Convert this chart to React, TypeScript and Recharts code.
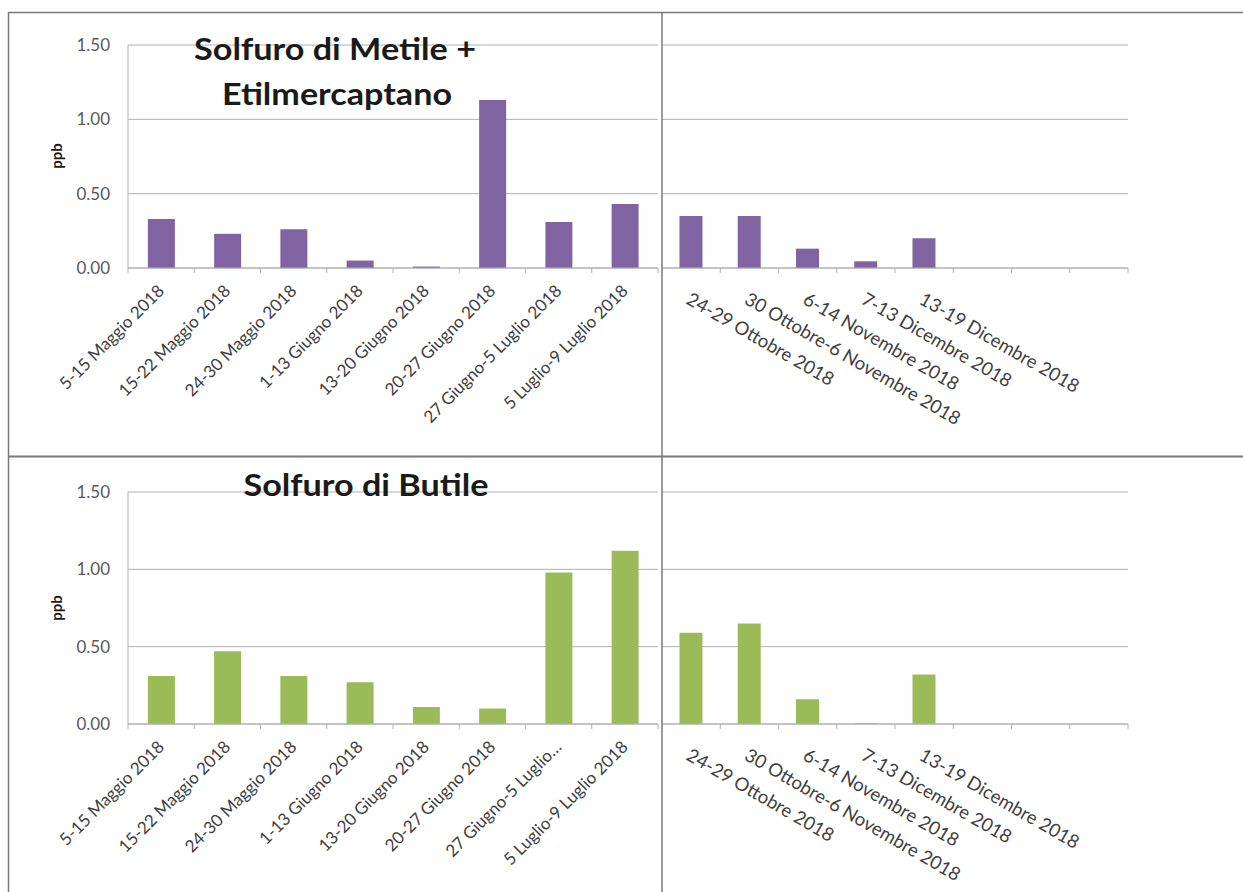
import React from 'react';
import { Bar, BarChart, CartesianGrid, XAxis, YAxis } from 'recharts';

const leftLabelsMetile = [
  '5-15 Maggio 2018',
  '15-22 Maggio 2018',
  '24-30 Maggio 2018',
  '1-13 Giugno 2018',
  '13-20 Giugno 2018',
  '20-27 Giugno 2018',
  '27 Giugno-5 Luglio 2018',
  '5 Luglio-9 Luglio 2018',
];
const leftLabelsButile = [
  '5-15 Maggio 2018',
  '15-22 Maggio 2018',
  '24-30 Maggio 2018',
  '1-13 Giugno 2018',
  '13-20 Giugno 2018',
  '20-27 Giugno 2018',
  '27 Giugno-5 Luglio…',
  '5 Luglio-9 Luglio 2018',
];
const rightLabels = [
  '24-29 Ottobre 2018',
  '30 Ottobre-6 Novembre 2018',
  '6-14 Novembre 2018',
  '7-13 Dicembre 2018',
  '13-19 Dicembre 2018',
  '',
  '',
  '',
];

const metileLeft = [0.33, 0.23, 0.26, 0.05, 0.01, 1.13, 0.31, 0.43];
const metileRight = [0.35, 0.35, 0.13, 0.045, 0.2, null, null, null];
const butileLeft = [0.31, 0.47, 0.31, 0.27, 0.11, 0.1, 0.98, 1.12];
const butileRight = [0.59, 0.65, 0.16, 0.005, 0.32, null, null, null];

const yTicks = [0, 0.5, 1, 1.5];

const PURPLE = '#8064a2';
const GREEN = '#9bbb59';
const GRID = '#b0b0b0';
const FRAME = '#7a7a7a';
const FONT = 'Lato, "Open Sans", sans-serif';

const DIVIDER_X = 662;
const MID_Y = 456;
const LEFT_AXIS_X = 128;
const LEFT_PLOT_END = 658;
const RIGHT_PLOT_END = 1128;

type Row = { label: string; value: number | null };

function rows(labels: string[], values: (number | null)[]): Row[] {
  return labels.map((label, i) => ({ label, value: values[i] }));
}

function LeftTick(props: any) {
  const { x, y, payload, index, step, count } = props;
  const ax = x + 4;
  const ay = y + 24;
  return (
    <g>
      <line x1={x - step / 2} x2={x - step / 2} y1={y} y2={y + 5} stroke={GRID} />
      {index === count - 1 && (
        <line x1={x + step / 2} x2={x + step / 2} y1={y} y2={y + 5} stroke={GRID} />
      )}
      <text
        x={ax}
        y={ay}
        transform={`rotate(-45 ${ax} ${ay})`}
        textAnchor="end"
        fontSize={17}
        fill="#404040"
        fontFamily={FONT}
      >
        {payload.value}
      </text>
    </g>
  );
}

function RightTick(props: any) {
  const { x, y, payload, index, step, count } = props;
  const ax = x - 6;
  const ay = y + 35;
  return (
    <g>
      <line x1={x - step / 2} x2={x - step / 2} y1={y} y2={y + 5} stroke={GRID} />
      {index === count - 1 && (
        <line x1={x + step / 2} x2={x + step / 2} y1={y} y2={y + 5} stroke={GRID} />
      )}
      <text
        x={ax}
        y={ay}
        transform={`rotate(30 ${ax} ${ay})`}
        textAnchor="start"
        fontSize={18.5}
        fill="#404040"
        fontFamily={FONT}
      >
        {payload.value}
      </text>
    </g>
  );
}

type HalfProps = {
  labels: string[];
  values: (number | null)[];
  color: string;
  top: number;
  height: number;
  plotTop: number;
  plotBottom: number;
};

function LeftHalf({ labels, values, color, top, height, plotTop, plotBottom }: HalfProps) {
  const width = DIVIDER_X;
  const step = (LEFT_PLOT_END - LEFT_AXIS_X) / labels.length;
  return (
    <div style={{ position: 'absolute', left: 0, top, width, height }}>
      <BarChart
        width={width}
        height={height}
        data={rows(labels, values)}
        margin={{ top: plotTop, right: width - LEFT_PLOT_END, bottom: 0, left: 0 }}
        barCategoryGap="30%"
      >
        <CartesianGrid vertical={false} stroke={GRID} />
        <XAxis
          dataKey="label"
          interval={0}
          height={height - plotBottom}
          tickLine={false}
          tickSize={0}
          tickMargin={0}
          axisLine={{ stroke: GRID }}
          tick={(p: any) => <LeftTick {...p} step={step} count={labels.length} />}
        />
        <YAxis
          width={LEFT_AXIS_X}
          domain={[0, 1.5]}
          ticks={yTicks}
          tickFormatter={(v: number) => v.toFixed(2)}
          tickLine={false}
          tickSize={0}
          tickMargin={18}
          axisLine={{ stroke: GRID }}
          tick={{ fill: '#595959', fontSize: 17, fontFamily: FONT }}
        />
        <Bar dataKey="value" fill={color} isAnimationActive={false} />
      </BarChart>
    </div>
  );
}

function RightHalf({ labels, values, color, top, height, plotTop, plotBottom }: HalfProps) {
  const width = 1243 - DIVIDER_X;
  const step = (RIGHT_PLOT_END - DIVIDER_X) / labels.length;
  return (
    <div style={{ position: 'absolute', left: DIVIDER_X, top, width, height }}>
      <BarChart
        width={width}
        height={height}
        data={rows(labels, values)}
        margin={{ top: plotTop, right: width - (RIGHT_PLOT_END - DIVIDER_X), bottom: 0, left: 0 }}
        barCategoryGap="30%"
      >
        <CartesianGrid vertical={false} stroke={GRID} />
        <XAxis
          dataKey="label"
          interval={0}
          height={height - plotBottom}
          tickLine={false}
          tickSize={0}
          tickMargin={0}
          axisLine={{ stroke: GRID }}
          tick={(p: any) => <RightTick {...p} step={step} count={labels.length} />}
        />
        <YAxis hide domain={[0, 1.5]} ticks={yTicks} />
        <Bar dataKey="value" fill={color} isAnimationActive={false} />
      </BarChart>
    </div>
  );
}

export default function App() {
  return (
    <div
      style={{
        position: 'absolute',
        left: 0,
        top: 0,
        width: 1243,
        height: 892,
        background: '#fff',
        fontFamily: FONT,
        overflow: 'hidden',
      }}
    >
      <LeftHalf labels={leftLabelsMetile} values={metileLeft} color={PURPLE} top={0} height={MID_Y} plotTop={45} plotBottom={268} />
      <RightHalf labels={rightLabels} values={metileRight} color={PURPLE} top={0} height={MID_Y} plotTop={45} plotBottom={268} />
      <LeftHalf labels={leftLabelsButile} values={butileLeft} color={GREEN} top={MID_Y} height={892 - MID_Y} plotTop={36} plotBottom={268} />
      <RightHalf labels={rightLabels} values={butileRight} color={GREEN} top={MID_Y} height={892 - MID_Y} plotTop={36} plotBottom={268} />
      <svg
        width={1243}
        height={892}
        style={{ position: 'absolute', left: 0, top: 0, pointerEvents: 'none' }}
      >
        <line x1={8.5} x2={8.5} y1={12} y2={892} stroke={FRAME} strokeWidth={1.5} />
        <line x1={8} x2={1243} y1={12.5} y2={12.5} stroke={FRAME} strokeWidth={1.5} />
        <line x1={8} x2={1243} y1={MID_Y + 0.5} y2={MID_Y + 0.5} stroke={FRAME} strokeWidth={2} />
        <line x1={DIVIDER_X} x2={DIVIDER_X} y1={12} y2={892} stroke={FRAME} strokeWidth={1.5} />
        <g fontFamily={FONT} fontWeight={700} fill="#1a1a1a" textAnchor="middle">
          <text x={335} y={60} fontSize={31} textLength={282} lengthAdjust="spacingAndGlyphs">
            Solfuro di Metile +
          </text>
          <text x={337} y={105} fontSize={31} textLength={230} lengthAdjust="spacingAndGlyphs">
            Etilmercaptano
          </text>
          <text x={366} y={496} fontSize={31} textLength={245} lengthAdjust="spacingAndGlyphs">
            Solfuro di Butile
          </text>
          <text x={62} y={156} fontSize={15} transform="rotate(-90 62 156)">ppb</text>
          <text x={62} y={608} fontSize={15} transform="rotate(-90 62 608)">ppb</text>
        </g>
      </svg>
    </div>
  );
}
